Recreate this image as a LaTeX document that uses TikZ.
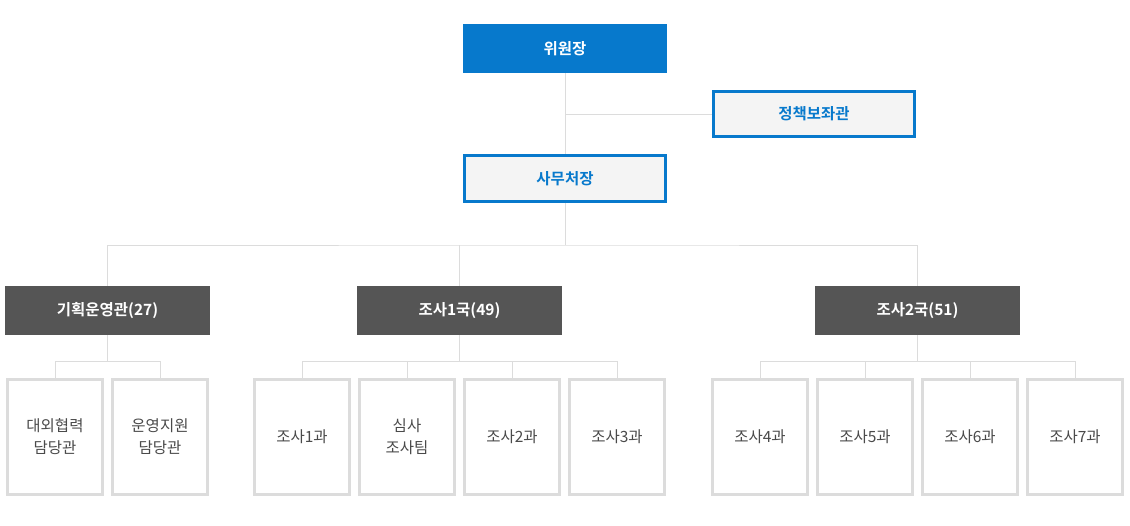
\documentclass[tikz,border=0pt]{standalone}
\usepackage{fontspec}
\setmainfont{Noto Sans CJK KR}
\newfontfamily\kbold{Noto Sans CJK KR Bold}
\definecolor{cblue}{HTML}{0779CC}
\definecolor{cdark}{HTML}{555555}
\definecolor{clight}{HTML}{F4F4F4}
\definecolor{cline}{HTML}{DCDCDC}
\definecolor{ctext}{HTML}{4A4A4A}
\begin{document}
\begin{tikzpicture}[x=1pt,y=-1pt,
  topbox/.style={fill=cblue,text=white,font=\kbold\fontsize{15.5}{18}\selectfont,minimum width=204,minimum height=49,inner sep=0},
  bluebox/.style={fill=clight,draw=cblue,line width=3,text=cblue,font=\kbold\fontsize{15.5}{18}\selectfont,minimum width=201,minimum height=45.5,inner sep=0},
  darkbox/.style={fill=cdark,text=white,font=\kbold\fontsize{15.5}{18}\selectfont,minimum width=205,minimum height=49,inner sep=0},
  childbox/.style={fill=white,draw=cline,line width=3,text=ctext,font=\fontsize{15.5}{22}\selectfont,minimum width=95,minimum height=115,inner sep=0,align=center},
  conn/.style={draw=cline,line width=1}]
\useasboundingbox (0,0) rectangle (1130,525);
\fill[white] (0,0) rectangle (1130,525);

\node[topbox] (wj) at (565,48.5) {위원장};
\node[bluebox] (jc) at (814,114) {정책보좌관};
\node[bluebox] (sm) at (565,178.5) {사무처장};

\node[darkbox] (gh) at (107.5,310.5) {기획운영관(27)};
\node[darkbox] (j1) at (459.5,310.5) {조사1국(49)};
\node[darkbox] (j2) at (917.5,310.5) {조사2국(51)};

\node[childbox] (a1) at (55,437) {대외협력\\담당관};
\node[childbox] (a2) at (160,437) {운영지원\\담당관};

\node[childbox] (b1) at (302,437) {조사1과};
\node[childbox] (b2) at (407,437) {심사\\조사팀};
\node[childbox] (b3) at (512,437) {조사2과};
\node[childbox] (b4) at (617,437) {조사3과};

\node[childbox] (d1) at (760,437) {조사4과};
\node[childbox] (d2) at (865,437) {조사5과};
\node[childbox] (d3) at (970,437) {조사6과};
\node[childbox] (d4) at (1075,437) {조사7과};

\coordinate (k1) at (565,114);
\coordinate (k2) at (565,245);
\coordinate (row) at (0,361);

\draw[conn] (wj.south) -- (sm.north);
\draw[conn] (k1) -- (jc.west);
\draw[conn] (sm.south) -- (k2);
\draw[conn] (gh.north) |- (k2) -| (j2.north);
\draw[conn] (j1.north) -- (j1.north |- k2);

\draw[conn] (gh.south) -- (gh.south |- row);
\draw[conn] (a1.north) |- (a2.north |- row) -- (a2.north);

\draw[conn] (j1.south) -- (j1.south |- row);
\draw[conn] (b1.north) |- (b4.north |- row) -- (b4.north);
\draw[conn] (b2.north) -- (b2.north |- row);
\draw[conn] (b3.north) -- (b3.north |- row);

\draw[conn] (j2.south) -- (j2.south |- row);
\draw[conn] (d1.north) |- (d4.north |- row) -- (d4.north);
\draw[conn] (d2.north) -- (d2.north |- row);
\draw[conn] (d3.north) -- (d3.north |- row);
\end{tikzpicture}
\end{document}
